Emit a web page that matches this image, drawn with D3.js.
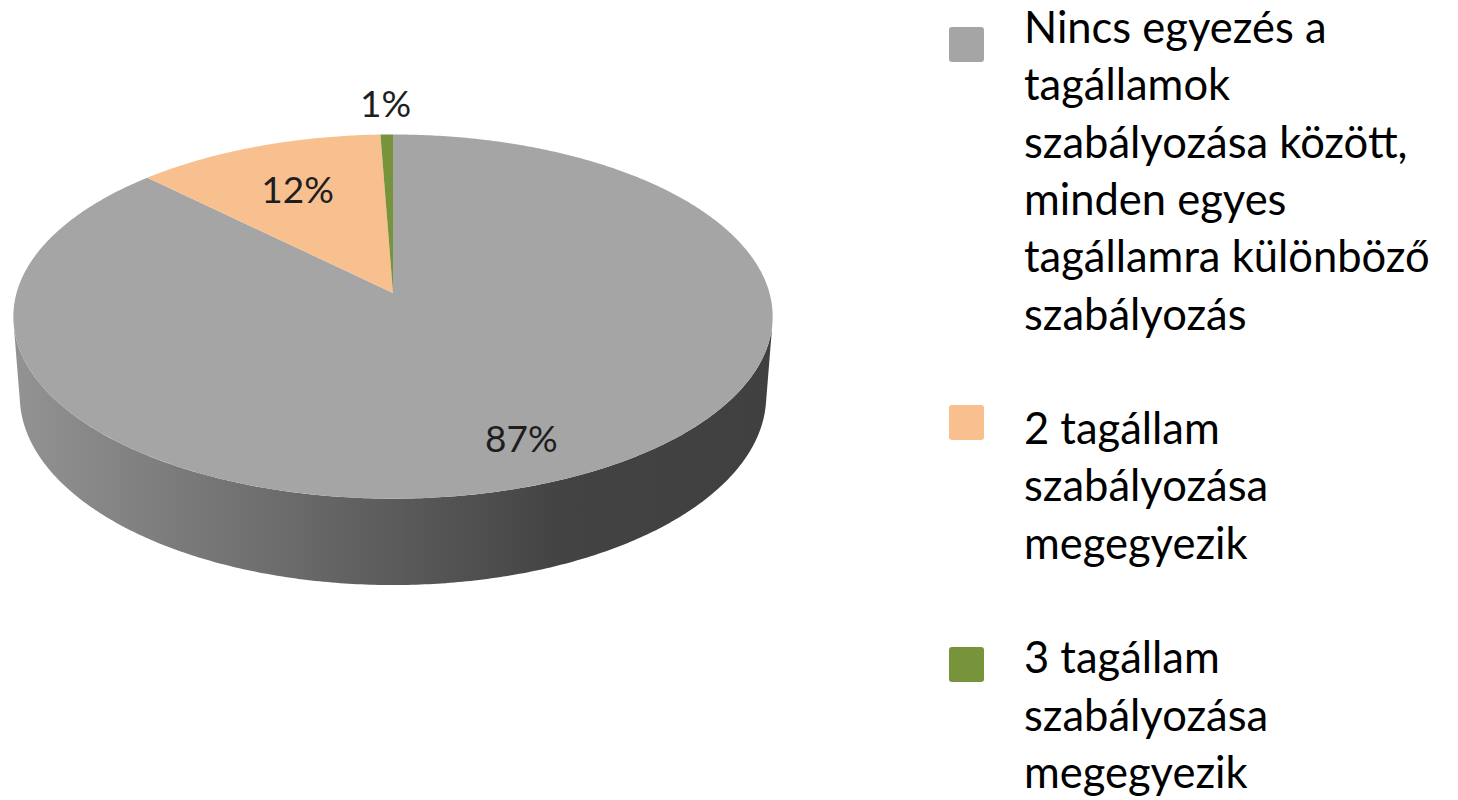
<!DOCTYPE html>
<html>
<head>
<meta charset="utf-8">
<script src="https://cdn.jsdelivr.net/npm/d3@7"></script>
<style>
  body { margin: 0; background: #ffffff; }
</style>
</head>
<body>
<div id="canvas"></div>
<script>
// Data

const categories = [
    "Nincs egyezés a tagállamok szabályozása között, minden egyes tagállamra különböző szabályozás",
    "2 tagállam szabályozása megegyezik",
    "3 tagállam szabályozása megegyezik"
];
const legendLines = [
    ["Nincs egyezés a", "tagállamok", "szabályozása között,", "minden egyes", "tagállamra különböző", "szabályozás"],
    ["2 tagállam", "szabályozása", "megegyezik"],
    ["3 tagállam", "szabályozása", "megegyezik"]
];
const shares = [87.4, 12.0, 0.6];
const sliceColors = ["#a5a5a5", "#f8bf8f", "#77933c"];

// Setting dimensions

let width = 1458;
let height = 800;
let cx = 393, cy = 293;

// Simple perspective camera for the 3D disc

let tilt = 28.4 * Math.PI / 180;
let sinT = Math.sin(tilt), cosT = Math.cos(tilt);
let dist = 6.8;
let focal = 2560;
let thick = 0.242;

// theta: clockwise from the back of the disc, r: radius (1 = rim), y: 0 top, negative = down
function project(theta, r, y) {
    let X = r * Math.sin(theta), Z = -r * Math.cos(theta);
    let up = y * cosT - Z * sinT;
    let d = dist - (Z * cosT + y * sinT);
    return [cx + focal * X / d, cy - focal * up / d];
}

function arcPoints(a0, a1, y) {
    let n = Math.max(2, Math.ceil(Math.abs(a1 - a0) / 0.01));
    return d3.range(n + 1).map(i => project(a0 + (a1 - a0) * i / n, 1, y));
}

let color = d3.scaleOrdinal().domain(categories).range(sliceColors);
let line = d3.line();

let svg = d3.select("#canvas")
    .append("svg")
    .attr("width", width)
    .attr("height", height);

// Side shading

let grad = svg.append("defs").append("linearGradient")
    .attr("id", "side")
    .attr("gradientUnits", "userSpaceOnUse")
    .attr("x1", 20).attr("x2", 770)
    .attr("y1", 0).attr("y2", 0);
grad.append("stop").attr("offset", 0).attr("stop-color", "#929292");
grad.append("stop").attr("offset", 0.72).attr("stop-color", "#434343");
grad.append("stop").attr("offset", 1).attr("stop-color", "#404040");

let arcs = d3.pie().sort(null).value(d => d)(shares);

// Front wall (only the big slice shows here)

let edge = Math.asin(1 / (dist * cosT));
let w0 = Math.PI / 2 + edge, w1 = 3 * Math.PI / 2 - edge;
let wall = arcPoints(w0, w1, 0).concat(arcPoints(w1, w0, -thick));

svg.append("path")
    .attr("d", line(wall) + "Z")
    .style("fill", "url(#side)");

// Top faces

svg.append("g")
    .selectAll("path")
    .data(arcs)
    .join("path")
    .attr("d", d => line([project(0, 0, 0)].concat(arcPoints(d.startAngle, d.endAngle, 0))) + "Z")
    .style("fill", (d, i) => color(categories[i]));

// Data labels

let labelRadius = [0.8, 0.68, 1.22];

svg.append("g")
    .selectAll("text")
    .data(arcs)
    .join("text")
    .attr("x", (d, i) => project((d.startAngle + d.endAngle) / 2, labelRadius[i], 0)[0])
    .attr("y", (d, i) => project((d.startAngle + d.endAngle) / 2, labelRadius[i], 0)[1])
    .attr("dy", "0.35em")
    .style("font-family", "Lato, 'Open Sans', sans-serif")
    .style("font-size", "37px")
    .style("text-anchor", "middle")
    .style("fill", "#1e1e1e")
    .text(d => Math.round(d.data) + "%");

// Legend

let lineH = 57.3;
let markerTop = [27, 405, 647];
let legend = svg.append("g");
let row = 0;

legendLines.forEach((lines, i) => {
    legend.append("rect")
        .attr("x", 949)
        .attr("y", markerTop[i])
        .attr("width", 35)
        .attr("height", 35)
        .attr("rx", 3)
        .style("fill", color(categories[i]));

    let t = legend.append("text")
        .attr("x", 1024)
        .attr("y", 43 + row * lineH)
        .style("font-family", "Lato, 'Open Sans', sans-serif")
        .style("font-size", "43.5px")
        .style("fill", "#000000");

    t.selectAll("tspan")
        .data(lines)
        .join("tspan")
        .attr("x", 1024)
        .attr("dy", (d, j) => j === 0 ? 0 : lineH)
        .text(d => d);

    row += lines.length + 1;
});
</script>
</body>
</html>
